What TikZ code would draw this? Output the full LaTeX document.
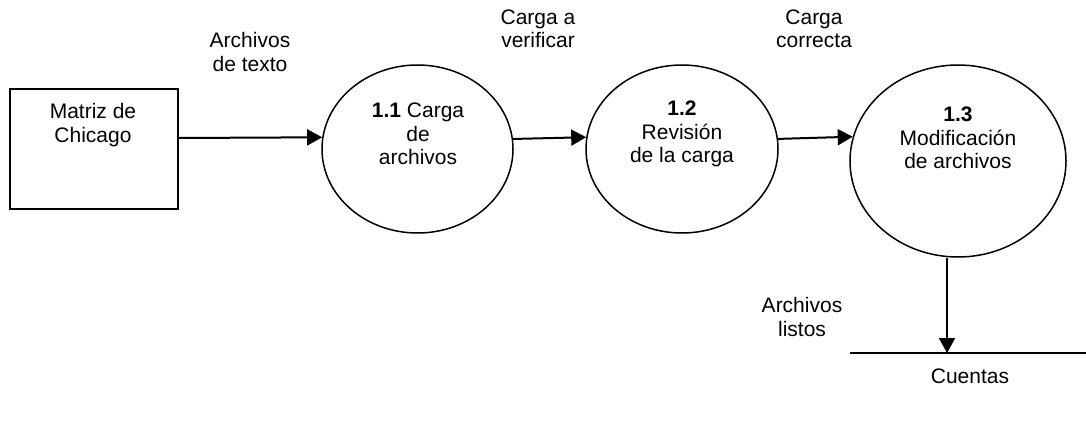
\documentclass[tikz,border=0pt]{standalone}
\usepackage{fontspec}
\setmainfont{Liberation Sans}
\usetikzlibrary{shapes.geometric,arrows.meta}
\begin{document}
\begin{tikzpicture}[x=1pt,y=-1pt,
  txt/.style={align=center,font=\fontsize{21}{23.5}\selectfont,inner sep=0pt},
  proc/.style={ellipse,draw,line width=1.5pt,inner sep=0pt},
  flow/.style={line width=2pt,-{Triangle[length=15pt,width=16pt]}},
  ent/.style={draw,line width=1.5pt,inner sep=0pt}]
\useasboundingbox (0,0) rectangle (1086,425);
\node[ent,minimum width=168pt,minimum height=120pt] (box) at (94,149) {};
\node[txt] (boxt) at (93,125) {Matriz de\\Chicago};
\node[proc,minimum width=191pt,minimum height=168pt] (e1) at (417.5,149) {};
\node[txt] (e1t) at (418,134) {\textbf{1.1} Carga\\de\\archivos};
\node[proc,minimum width=192pt,minimum height=168pt] (e2) at (682,149) {};
\node[txt] (e2t) at (682,134) {\textbf{1.2}\\Revisión\\de la carga};
\node[proc,minimum width=216pt,minimum height=192pt] (e3) at (958,161) {};
\node[txt] (e3t) at (958,138) {\textbf{1.3}\\Modificación\\de archivos};
\coordinate (sl) at (850,353);
\coordinate (sr) at (1086,353);
\coordinate (st) at (947,353);
\draw[line width=1.5pt] (sl) -- (sr);
\node[txt] (cu) at (970,376) {Cuentas};
\node[txt] (l1) at (250,52) {Archivos\\de texto};
\node[txt] (l2) at (538,29) {Carga a\\verificar};
\node[txt] (l3) at (814,29) {Carga\\correcta};
\node[txt] (l4) at (802,317) {Archivos\\listos};
\draw[flow] ([yshift=11pt]box.east) -- (e1.173.4);
\draw[flow] (e1.6.6) -- (e2.173.4);
\draw[flow] (e2.6.6) -- (e3.167.6);
\draw[flow] ([xshift=-11pt]e3.south) -- (st);
\end{tikzpicture}
\end{document}
